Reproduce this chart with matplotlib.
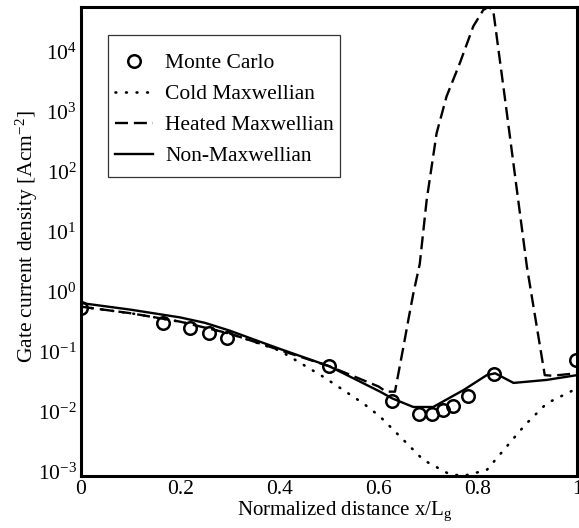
import matplotlib
matplotlib.use("Agg")
import matplotlib.pyplot as plt
from matplotlib.patches import Rectangle
from matplotlib.ticker import FixedLocator, FixedFormatter, LogLocator, NullLocator

plt.rcParams['font.family'] = ['Liberation Serif', 'DejaVu Serif']
plt.rcParams['mathtext.fontset'] = 'custom'
plt.rcParams['mathtext.rm'] = 'Liberation Serif'
plt.rcParams['mathtext.it'] = 'Liberation Serif:italic'
plt.rcParams['mathtext.bf'] = 'Liberation Serif:bold'
plt.rcParams['mathtext.default'] = 'regular'

# Monte Carlo
mc_x = [0.0, 0.165, 0.22, 0.259, 0.294, 0.5, 0.628, 0.682, 0.708, 0.729, 0.751, 0.78, 0.833, 0.998]
mc_y = [0.528, 0.304, 0.251, 0.207, 0.167, 0.0578, 0.0151, 0.00933, 0.00912, 0.0105, 0.0126, 0.0182, 0.0427, 0.0741]

# Cold Maxwellian
cold_x = [0.0, 0.1, 0.2, 0.3, 0.4, 0.489, 0.569, 0.603, 0.647, 0.69, 0.741, 0.77, 0.818, 0.855, 0.895, 0.939, 1.0]
cold_y = [0.56, 0.437, 0.316, 0.2, 0.105, 0.038, 0.0138, 0.0083, 0.0036, 0.00158, 0.00093, 0.00085, 0.00107, 0.00245, 0.006, 0.0138, 0.0245]

# Heated Maxwellian
heat_x = [0.0, 0.1, 0.2, 0.3, 0.4, 0.5, 0.6, 0.615, 0.633, 0.65, 0.66, 0.67, 0.683, 0.697, 0.717, 0.737,
          0.764, 0.791, 0.811, 0.821, 0.831, 0.855, 0.899, 0.935, 0.95, 1.0]
heat_y = [0.562, 0.437, 0.316, 0.2, 0.107, 0.0575, 0.0263, 0.0216, 0.0216, 0.12, 0.34, 0.93, 2.9, 34.0, 437.0, 1780.0,
          6460.0, 26300.0, 49000.0, 55000.0, 49000.0, 1585.0, 2.6, 0.0407, 0.0398, 0.0437]

# Non-Maxwellian
nonm_x = [0.0, 0.1, 0.2, 0.25, 0.3, 0.35, 0.4, 0.5, 0.603, 0.628, 0.67, 0.71, 0.771, 0.818, 0.835, 0.872, 0.939, 1.0]
nonm_y = [0.646, 0.501, 0.372, 0.302, 0.224, 0.158, 0.112, 0.0575, 0.0216, 0.0166, 0.012, 0.012, 0.0229, 0.0407,
          0.0437, 0.0302, 0.0339, 0.0407]

x_ticks = [0.0, 0.2, 0.4, 0.6, 0.8, 1.0]
x_tick_labels = ['0', '0.2', '0.4', '0.6', '0.8', '1']

fig = plt.figure(figsize=(5.79, 5.28), dpi=100)
ax = fig.add_axes([81/579, 1 - 476/528, 496/579, 469/528])

ax.plot(cold_x, cold_y, color='black', linestyle=(0, (0.3, 3.7)), linewidth=1.9,
        dash_capstyle='round', label='Cold Maxwellian')
ax.plot(heat_x, heat_y, color='black', linestyle=(0, (5.5, 2.5)), linewidth=1.7, label='Heated Maxwellian')
ax.plot(nonm_x, nonm_y, color='black', linestyle='-', linewidth=1.7, label='Non-Maxwellian')
ax.plot(mc_x, mc_y, linestyle='none', marker='o', markersize=9.0, markerfacecolor='none',
        markeredgecolor='black', markeredgewidth=1.8, label='Monte Carlo')

ax.set_yscale('log')
ax.set_xlim(0, 1)
ax.set_ylim(10 ** -3.07, 10 ** 4.74)
ax.xaxis.set_major_locator(FixedLocator(x_ticks))
ax.xaxis.set_major_formatter(FixedFormatter(x_tick_labels))
ax.yaxis.set_major_locator(LogLocator(base=10, numticks=20))
ax.yaxis.set_minor_locator(NullLocator())
ax.tick_params(axis='both', which='both', length=0, labelsize=15.5)
ax.tick_params(axis='x', pad=3)
ax.tick_params(axis='y', pad=3)
for s in ax.spines.values():
    s.set_linewidth(2.2)

ax.set_xlabel(r'Normalized distance x/L$_{\rm g}$', fontsize=15)
ax.xaxis.set_label_coords(0.532, -0.051)
ax.xaxis.label.set_verticalalignment('top')
ax.set_ylabel(r'Gate current density [Acm$^{-2}$]', fontsize=15.5)
ax.yaxis.set_label_coords(-0.082, 0.511)

# legend box drawn separately (more vertical than horizontal padding)
ax.add_patch(Rectangle((27/496, (476-177)/469), 232/496, 142/469, transform=ax.transAxes,
                       fill=True, facecolor='white', edgecolor='#333333', linewidth=0.9,
                       zorder=4, clip_on=False))

h, l = ax.get_legend_handles_labels()
order = [3, 0, 1, 2]
leg = ax.legend([h[i] for i in order], [l[i] for i in order], loc='upper left',
                bbox_to_anchor=(34/496, (476-53)/469), borderaxespad=0, fontsize=15.5,
                frameon=False, handlelength=1.77, handletextpad=0.56, labelspacing=0.51, borderpad=0)
leg.set_zorder(5)

fig.savefig('out.png', dpi=100)
